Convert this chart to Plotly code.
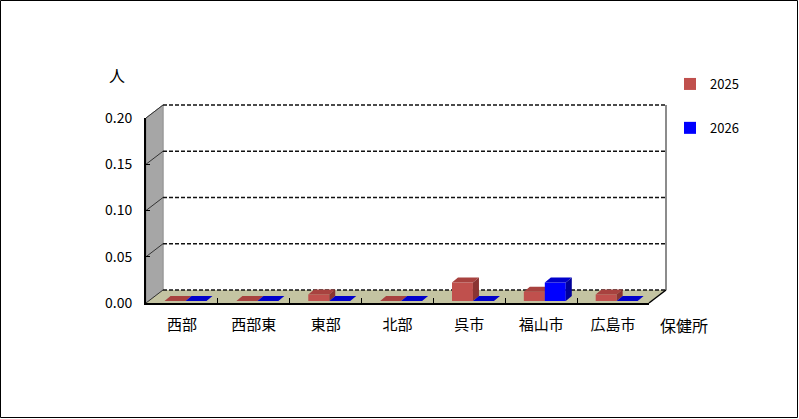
import plotly.graph_objects as go

# data
categories = ['西部', '西部東', '東部', '北部', '呉市', '福山市', '広島市']
series_names = ['2025', '2026']
values_2025 = [0.0, 0.0, 0.007, 0.0, 0.02, 0.01, 0.007]
values_2026 = [0.0, 0.0, 0.0, 0.0, 0.0, 0.02, 0.0]
y_ticks = [0.0, 0.05, 0.10, 0.15, 0.20]
y_title = '人'
x_title = '保健所'

# page / plot box in pixels
W, H = 799, 419
L, R, T, B = 146, 649, 118, 303
PW, PH = R - L, B - T
YMAX = 0.2
N = len(categories)
CAT_W = PW / N
UNIT_Y = PH / YMAX

# fake 3d: depth of walls and bars (pixels)
DX, DY = 17, 13
SHIFT_X, SHIFT_Y = 3.6, 2
DEPTH_X, DEPTH_Y = 6, 5
BAR_W = 0.292

JP = 'Noto Sans CJK JP'

front_cols = ['#C0504D', '#0000FF']
top_cols = ['#A8423F', '#0000CC']
side_cols = ['#8A3432', '#00009A']


def px_x(p):
    return (p - L) / PW


def px_y(p):
    return (B - p) / PH


fig = go.Figure()

# empty trace so the front axes (x / y) are drawn
fig.add_trace(go.Scatter(x=[None], y=[None], mode='markers', showlegend=False,
                         hoverinfo='skip'))

# each series on its own overlaid axes so the later one hides the earlier one's side
for k, (name, vals) in enumerate(zip(series_names, [values_2025, values_2026])):
    sfx = str(k + 2)
    xa, ya = 'x' + sfx, 'y' + sfx
    offs = -BAR_W + k * BAR_W
    fig.add_trace(go.Bar(
        x=list(range(N)), y=vals, name=name,
        offset=offs, width=BAR_W,
        marker=dict(color=front_cols[k], line=dict(width=0)),
        xaxis=xa, yaxis=ya, legendgroup=name, hoverinfo='skip'))
    ddx = DEPTH_X / CAT_W
    ddy = DEPTH_Y / UNIT_Y
    tx, ty, sx, sy = [], [], [], []
    for i, v in enumerate(vals):
        x0 = i + offs
        x1 = x0 + BAR_W
        tx += [x0, x1, x1 + ddx, x0 + ddx, x0, None]
        ty += [v, v, v + ddy, v + ddy, v, None]
        if v > 0:
            sx += [x1, x1, x1 + ddx, x1 + ddx, x1, None]
            sy += [0, v, v + ddy, ddy, 0, None]
    fig.add_trace(go.Scatter(x=tx, y=ty, mode='lines', fill='toself',
                             fillcolor=top_cols[k], line=dict(width=0),
                             xaxis=xa, yaxis=ya, showlegend=False, hoverinfo='skip'))
    fig.add_trace(go.Scatter(x=sx, y=sy, mode='lines', fill='toself',
                             fillcolor=side_cols[k], line=dict(width=0),
                             xaxis=xa, yaxis=ya, showlegend=False, hoverinfo='skip'))

pxd = DX / PW
pyd = DY / PH

shapes = []
# back wall
shapes.append(dict(type='rect', xref='paper', yref='paper', x0=pxd, x1=1 + pxd,
                   y0=pyd, y1=1 + pyd, fillcolor='white', line=dict(width=0), layer='below'))
# side wall
shapes.append(dict(type='path', xref='paper', yref='paper',
                   path=f'M 0,0 L 0,1 L {pxd},{1 + pyd} L {pxd},{pyd} Z',
                   fillcolor='#A6A6A6', line=dict(color='#8C8C8C', width=1), layer='below'))
# floor
shapes.append(dict(type='path', xref='paper', yref='paper',
                   path=f'M 0,0 L 1,0 L {1 + pxd},{pyd} L {pxd},{pyd} Z',
                   fillcolor='#C4C4A2', line=dict(width=0), layer='below'))
# back wall edges
shapes.append(dict(type='line', xref='paper', yref='paper', x0=1 + pxd, x1=1 + pxd,
                   y0=pyd, y1=1 + pyd, line=dict(color='#8C8C8C', width=2), layer='below'))
shapes.append(dict(type='line', xref='paper', yref='paper', x0=pxd, x1=pxd,
                   y0=pyd, y1=1 + pyd, line=dict(color='#A0A0A0', width=1), layer='below'))
# gridlines on back wall + side wall
for v in y_ticks:
    fy = v / YMAX
    shapes.append(dict(type='line', xref='paper', yref='paper', x0=pxd, x1=1 + pxd,
                       y0=fy + pyd, y1=fy + pyd,
                       line=dict(color='#111111', width=1.5, dash='4px,2px'), layer='below'))
    shapes.append(dict(type='line', xref='paper', yref='paper', x0=0, x1=pxd,
                       y0=fy, y1=fy + pyd, line=dict(color='#333333', width=1), layer='below'))
# floor right edge
shapes.append(dict(type='line', xref='paper', yref='paper', x0=1, x1=1 + pxd,
                   y0=0, y1=pyd, line=dict(color='black', width=1.5)))
# page border
shapes.append(dict(type='rect', xref='paper', yref='paper',
                   x0=px_x(0.5), x1=px_x(W - 1.5), y0=px_y(H - 1.5), y1=px_y(0.5),
                   line=dict(color='black', width=1)))

bx = SHIFT_X / CAT_W
by = SHIFT_Y / UNIT_Y
overlay = dict(range=[-0.5 - bx, N - 0.5 - bx], visible=False, fixedrange=True)
overlay_y = dict(range=[-by, YMAX - by], visible=False, fixedrange=True)

fig.update_layout(
    width=W, height=H, autosize=False,
    margin=dict(l=L, r=W - R, t=T, b=H - B, pad=0),
    paper_bgcolor='white', plot_bgcolor='rgba(0,0,0,0)',
    showlegend=True,
    legend=dict(x=px_x(670), y=px_y(69), xanchor='left', yanchor='top',
                font=dict(family=JP, size=13, color='black'),
                tracegroupgap=24, bgcolor='rgba(0,0,0,0)'),
    xaxis=dict(range=[-0.5, N - 0.5], tickvals=list(range(N)), ticktext=categories,
               ticks='', showgrid=False, zeroline=False,
               showline=True, linecolor='black', linewidth=2,
               tickfont=dict(family=JP, size=15, color='black'),
               minor=dict(tickvals=[i + 0.5 for i in range(N - 1)], ticks='inside',
                          ticklen=5, tickcolor='black', tickwidth=1, showgrid=False),
               ticklabelstandoff=7, fixedrange=True),
    yaxis=dict(range=[0, YMAX], tickvals=y_ticks, tickformat='.2f',
               ticks='inside', ticklen=4, tickcolor='black', showgrid=False, zeroline=False,
               showline=True, linecolor='black', linewidth=2,
               tickfont=dict(family=JP, size=14, color='black'),
               ticklabelstandoff=9, fixedrange=True),
    xaxis2=dict(overlaying='x', **overlay),
    yaxis2=dict(overlaying='y', **overlay_y),
    xaxis3=dict(overlaying='x', **overlay),
    yaxis3=dict(overlaying='y', **overlay_y),
    shapes=shapes,
    annotations=[
        dict(text=y_title, xref='paper', yref='paper', x=px_x(117), y=px_y(75),
             xanchor='center', yanchor='middle', showarrow=False,
             font=dict(family=JP, size=16, color='black')),
        dict(text=x_title, xref='paper', yref='paper', x=px_x(684), y=px_y(325),
             xanchor='center', yanchor='middle', showarrow=False,
             font=dict(family=JP, size=16, color='black')),
    ],
)

fig.write_html('out.html', config={'displayModeBar': False},
               post_script="document.body.style.margin='0';")
